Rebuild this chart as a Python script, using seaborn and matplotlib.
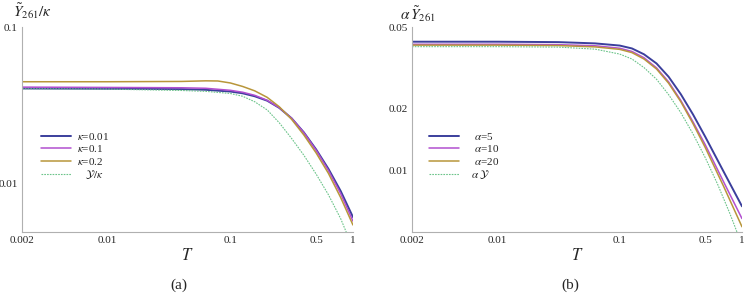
import matplotlib
matplotlib.use("Agg")
import matplotlib.pyplot as plt
import seaborn as sns
from matplotlib.ticker import FixedLocator, FixedFormatter, NullLocator

# panel (a): Y261/kappa vs T
T_a = [0.002, 0.01, 0.04, 0.063, 0.1, 0.126, 0.158, 0.2, 0.251, 0.316, 0.398, 0.501, 0.631, 0.794, 1.0]
k001 = [0.0405, 0.0403, 0.0401, 0.0397, 0.0387, 0.0377, 0.0361, 0.0338, 0.0304, 0.0261, 0.0212, 0.0165, 0.0124, 0.00895, 0.0061]
k01 = [0.0413, 0.0411, 0.0409, 0.0406, 0.0394, 0.0383, 0.0366, 0.0340, 0.0305, 0.0261, 0.0211, 0.0163, 0.0121, 0.00861, 0.00575]
T_g = [0.002, 0.01, 0.04, 0.063, 0.079, 0.1, 0.126, 0.158, 0.2, 0.251, 0.316, 0.398, 0.501, 0.631, 0.794, 1.0]
k02 = [0.0447, 0.0447, 0.0449, 0.0453, 0.0452, 0.0439, 0.0417, 0.0391, 0.0355, 0.0309, 0.0257, 0.0204, 0.01567, 0.0116, 0.00813, 0.00543]
T_ya = [0.002, 0.01, 0.04, 0.063, 0.1, 0.126, 0.158, 0.2, 0.251, 0.316, 0.398, 0.501, 0.631, 0.794, 0.891]
y_k = [0.0403, 0.0401, 0.0393, 0.0388, 0.0376, 0.0361, 0.0333, 0.0295, 0.0244, 0.0194, 0.01514, 0.01148, 0.00847, 0.00596, 0.00479]

# panel (b): alpha*Y261 vs T
T_b = [0.002, 0.01, 0.0316, 0.063, 0.1, 0.126, 0.158, 0.2, 0.251, 0.316, 0.398, 0.501, 0.708, 1.0]
a5 = [0.0424, 0.0424, 0.0422, 0.0416, 0.0406, 0.0393, 0.0368, 0.0332, 0.0286, 0.0235, 0.0187, 0.01456, 0.00984, 0.00667]
a10 = [0.0412, 0.0412, 0.0410, 0.0405, 0.0394, 0.0380, 0.0354, 0.0316, 0.0270, 0.0219, 0.0172, 0.0133, 0.00877, 0.00581]
a20 = [0.0408, 0.0408, 0.0406, 0.0400, 0.0389, 0.0375, 0.0349, 0.0312, 0.0266, 0.0216, 0.01687, 0.0129, 0.00834, 0.0053]
T_yb = [0.002, 0.01, 0.0316, 0.063, 0.1, 0.126, 0.158, 0.2, 0.251, 0.316, 0.398, 0.501, 0.631, 0.794, 0.871, 0.933]
y_a = [0.0401, 0.0401, 0.0399, 0.0390, 0.0369, 0.0349, 0.0317, 0.0278, 0.0234, 0.0191, 0.01503, 0.01151, 0.00856, 0.00617, 0.00535, 0.0048]

x_ticks = [0.002, 0.01, 0.1, 0.5, 1]
x_labels = ["0.002", "0.01", "0.1", "0.5", "1"]

sns.set_style("white")
plt.rcParams["font.family"] = ["Liberation Serif", "DejaVu Serif"]
plt.rcParams["mathtext.fontset"] = "stix"

blue = "#3b3f9c"
purple = "#b24fd0"
gold = "#b8963a"
green = "#6cc48a"
dots = (0, (1.5, 1))

fig = plt.figure(figsize=(7.47, 2.97), dpi=100)
ax1 = fig.add_axes([0.0295, 0.219, 0.443, 0.690])
ax2 = fig.add_axes([0.5515, 0.219, 0.4418, 0.690])

sns.lineplot(x=T_a, y=k001, ax=ax1, color=blue, lw=1.4, label=r"$\kappa$=0.01")
sns.lineplot(x=T_a, y=k01, ax=ax1, color=purple, lw=1.1, label=r"$\kappa$=0.1")
sns.lineplot(x=T_g, y=k02, ax=ax1, color=gold, lw=1.1, label=r"$\kappa$=0.2")
sns.lineplot(x=T_ya, y=y_k, ax=ax1, color=green, lw=0.8, linestyle=dots,
             label=r"   $\mathcal{Y}/\kappa$")

sns.lineplot(x=T_b, y=a5, ax=ax2, color=blue, lw=1.4, label=r"   $\alpha$=5")
sns.lineplot(x=T_b, y=a10, ax=ax2, color=purple, lw=1.1, label=r"   $\alpha$=10")
sns.lineplot(x=T_b, y=a20, ax=ax2, color=gold, lw=1.1, label=r"   $\alpha$=20")
sns.lineplot(x=T_yb, y=y_a, ax=ax2, color=green, lw=0.8, linestyle=dots,
             label=r"  $\alpha\,\mathcal{Y}$")

for ax, ylim, yt, ytl, lx in [(ax1, (0.0049, 0.1), [0.01, 0.1], ["0.01", "0.1"], 0.04),
                              (ax2, (0.005, 0.05), [0.01, 0.02, 0.05], ["0.01", "0.02", "0.05"], 0.035)]:
    ax.set_xscale("log")
    ax.set_yscale("log")
    ax.set_xlim(0.002, 1)
    ax.set_ylim(*ylim)
    ax.xaxis.set_major_locator(FixedLocator(x_ticks))
    ax.xaxis.set_major_formatter(FixedFormatter(x_labels))
    ax.xaxis.set_minor_locator(NullLocator())
    ax.yaxis.set_major_locator(FixedLocator(yt))
    ax.yaxis.set_major_formatter(FixedFormatter(ytl))
    ax.yaxis.set_minor_locator(NullLocator())
    ax.tick_params(length=1.5, width=0.6, color="#b0b0b0", labelsize=8, pad=1.5)
    for s in ["top", "right"]:
        ax.spines[s].set_visible(False)
    for s in ["left", "bottom"]:
        ax.spines[s].set_color("#b0b0b0")
        ax.spines[s].set_linewidth(0.8)
    ax.set_xlabel(r"$T$", fontsize=12, labelpad=2)
    ax.legend(loc="upper left", frameon=False, fontsize=8, borderpad=0,
              handlelength=2.7, handletextpad=0.6, labelspacing=0.12,
              bbox_to_anchor=(lx, 0.52))

fig.text(0.018, 0.962, r"$\tilde{Y}_{261}/\kappa$", fontsize=11, va="center")
fig.text(0.535, 0.952, r"$\alpha\,\tilde{Y}_{261}$", fontsize=11, va="center")
fig.text(0.24, 0.04, "(a)", fontsize=11, ha="center", va="center")
fig.text(0.763, 0.04, "(b)", fontsize=11, ha="center", va="center")

plt.savefig("out.png", dpi=100)
